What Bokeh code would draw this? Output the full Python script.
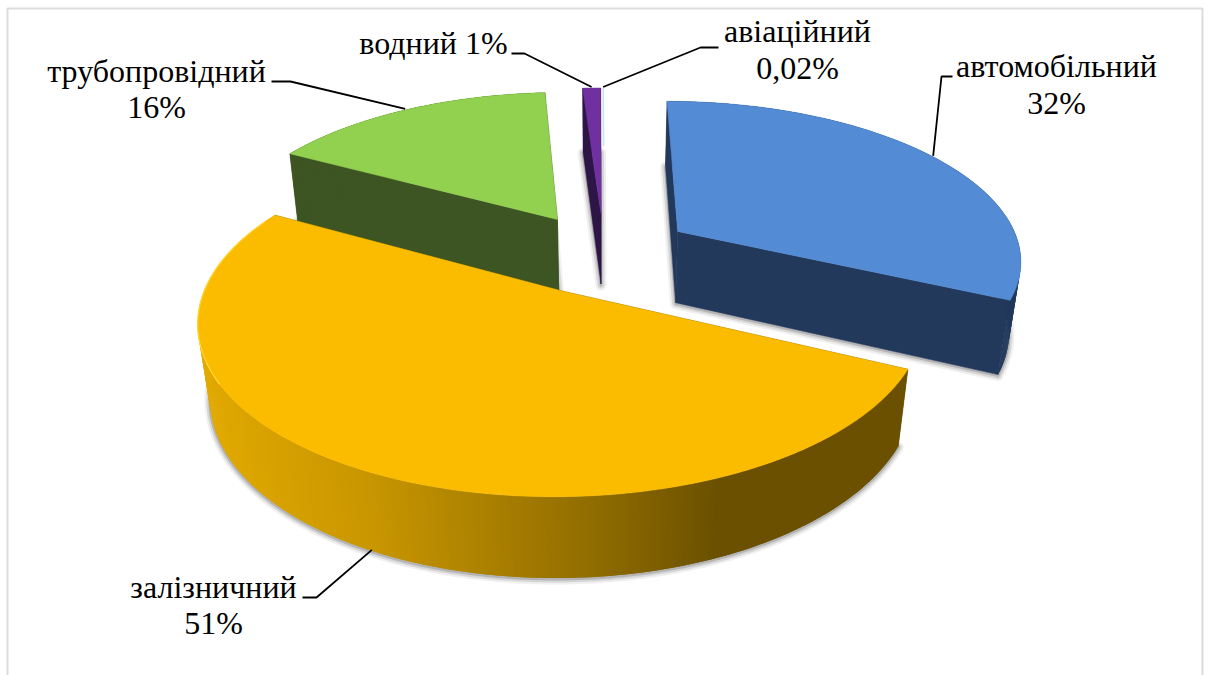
import numpy as np
from bokeh.core.properties import value
from bokeh.embed import file_html
from bokeh.models import BoxAnnotation
from bokeh.plotting import figure
from bokeh.resources import INLINE

# Freight turnover shares by transport mode, in drawing order around the pie
modes = ["автомобільний", "залізничний", "трубопровідний", "водний", "авіаційний"]
shares = [32, 51, 16, 1, 0.02]
share_labels = ["32%", "51%", "16%", "1%", "0,02%"]
top_colors = ["#538CD5", "#FBBC00", "#92D050", "#7030A0", "#C4E4F0"]
wall_colors = ["#22395C", "#6B5000", "#3D5522", "#2D1646", "#C4E4F0"]

# Camera model of the tilted disc (screen pixels, radius 1 in the plane)
VANISH_X, HORIZON_Y, PLANE_DIST = 600.0, -711.5, 1000.0
RADIUS_X, TILT, THICK_DIST, THICK_Y = 357.0, 0.17, 0.03, 106.0
CENTRE = (0.01, 0.22)
EXPLODE = 0.26


def project(x, y, z=0.0):
    """Perspective projection of plane coordinates; z=1 is the underside."""
    w = 1.0 + TILT * np.asarray(y) + THICK_DIST * z
    sx = VANISH_X + RADIUS_X * np.asarray(x) / w
    sy = HORIZON_Y + (PLANE_DIST + THICK_Y * z) / w
    return sx, sy


total = sum(shares)
ends = np.cumsum(shares) / total * 2 * np.pi
starts = np.concatenate(([0.0], ends[:-1]))


def apex(i):
    mid = (starts[i] + ends[i]) / 2
    return CENTRE[0] + EXPLODE * np.sin(mid), CENTRE[1] + EXPLODE * np.cos(mid)


def rim(i, t):
    ax, ay = apex(i)
    return ax + np.sin(t), ay + np.cos(t)


def arc(i, step=np.radians(0.5)):
    n = max(2, int((ends[i] - starts[i]) / step) + 1)
    return np.linspace(starts[i], ends[i], n)


p = figure(width=1208, height=675, x_range=(0, 1208), y_range=(675, 0),
           output_backend="svg", toolbar_location=None, min_border=0,
           background_fill_color="white", border_fill_color="white",
           outline_line_color=None)
p.axis.visible = False
p.grid.visible = False

p.add_layout(BoxAnnotation(left=7, right=1202, top=8, bottom=720,
                           fill_alpha=0, line_color="#8C8C8C", line_width=2))


def sector_outline(i, z):
    ax, ay = apex(i)
    t = arc(i)
    rx, ry = rim(i, t)
    return project(np.r_[ax, rx], np.r_[ay, ry], z)


# Soft shadow hugging the underside of every slice
for i in range(4):
    sx, sy = sector_outline(i, 1)
    for width, alpha in ((11, 0.06), (7, 0.10), (3, 0.16)):
        p.patch(sx, sy + 1, fill_alpha=0, line_color="black",
                line_alpha=alpha, line_width=width, line_join="round")

# Rail's outer wall is lit from the left and darkens toward the right
grad_x = [200, 370, 600, 720, 910]
grad_rgb = np.array([[0xE2, 0xAA, 0x00], [0xC8, 0x96, 0x00], [0x8F, 0x6C, 0x00],
                     [0x6B, 0x50, 0x00], [0x6B, 0x50, 0x00]], dtype=float)


def wall_shade(i, x):
    if i != 1:
        return wall_colors[i]
    rgb = [np.interp(x, grad_x, grad_rgb[:, c]) for c in range(3)]
    return "#%02X%02X%02X" % tuple(int(v) for v in rgb)


# Painter's order: far slices first, the big front slice last
for i in (3, 2, 0, 1):
    ax, ay = apex(i)
    for t0 in (starts[i], ends[i]):
        rx, ry = rim(i, t0)
        x0, y0 = project([ax, rx], [ay, ry], 0)
        x1, y1 = project([ax, rx], [ay, ry], 1)
        p.patch(np.r_[x0, x1[::-1]], np.r_[y0, y1[::-1]],
                fill_color=wall_colors[i], line_color=wall_colors[i], line_width=0.5)

    t = arc(i)
    rx, ry = rim(i, t)
    x0, y0 = project(rx, ry, 0)
    x1, y1 = project(rx, ry, 1)
    # Each strip overlaps the next one so no seams show between them
    last = len(t) - 1
    quads_x = [[x0[k], x0[min(k + 2, last)], x1[min(k + 2, last)], x1[k]] for k in range(last)]
    quads_y = [[y0[k], y0[min(k + 2, last)], y1[min(k + 2, last)], y1[k]] for k in range(last)]
    shades = [wall_shade(i, 0.5 * (x0[k] + x0[k + 1])) for k in range(last)]
    p.patches(quads_x, quads_y, fill_color=shades, line_color=None)

    sx, sy = sector_outline(i, 0)
    p.patch(sx, sy, fill_color=top_colors[i], line_color=top_colors[i], line_width=0.5)

# Light catch along the left edge of the rail slice
t = np.radians(np.linspace(240, 296, 40))
rx, ry = rim(1, t)
ex, ey = project(rx, ry, 0)
p.line(ex, ey, line_color="#FFD83A", line_width=1.2)

# The air-transport slice is a hairline, visible only toward the rim
i = 4
ax, ay = apex(i)
rx, ry = rim(i, ends[i])
hx, hy = project([ax + 0.5 * (rx - ax), rx], [ay + 0.5 * (ry - ay), ry], 0)
p.line(hx, hy, line_color=top_colors[i], line_width=1.6)

# Leader lines run from the middle of each slice's rim to its label
label_x = [1056, 213, 156, 433, 797]
name_y = [65, 586, 70, 42, 30]
value_y = [102, 622, 106, None, 67]
elbow_x = [[952, 941], [302, 316], [271, 290], [511, 524], [718, 700]]
elbow_y = [76, 597, 81, 53, 47]
anchor_z = [0, 1, 0, 0, 0]

for i in range(5):
    mid = (starts[i] + ends[i]) / 2
    mx, my = rim(i, mid)
    ax_, ay_ = project(mx, my, anchor_z[i])
    xs = [elbow_x[i][0], elbow_x[i][1], float(ax_)]
    ys = [elbow_y[i], elbow_y[i], float(ay_) - 1]
    p.line(xs, ys, line_color="black", line_width=1.8)

font = value("'Liberation Serif', serif")
for i in range(5):
    name = modes[i]
    if value_y[i] is None:
        name = f"{modes[i]} {share_labels[i]}"
    p.text([label_x[i]], [name_y[i]], text=[name], text_font=font,
           text_font_size="32px", text_color="black",
           text_align="center", text_baseline="middle")
    if value_y[i] is not None:
        p.text([label_x[i]], [value_y[i]], text=[share_labels[i]], text_font=font,
               text_font_size="32px", text_color="black",
               text_align="center", text_baseline="middle")

open("out.html", "w").write(file_html(p, INLINE))
